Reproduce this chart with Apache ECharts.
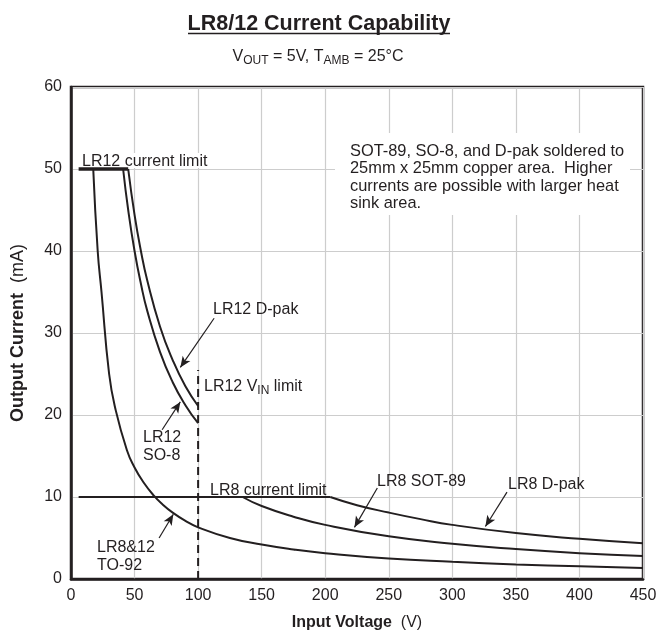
<!DOCTYPE html>
<html>
<head>
<meta charset="utf-8">
<script src="https://cdn.jsdelivr.net/npm/echarts@6/dist/echarts.min.js"></script>
<style>
  html, body { margin: 0; padding: 0; background: #fff; }
  #chart { width: 658px; height: 630px; }
</style>
</head>
<body>
<div id="chart"></div>
<script>
  // data: [input voltage V, output current mA]
  const to92 = [[17.5, 50], [21, 40], [24, 35], [30, 25], [35, 20.7], [44, 15.7], [50, 13.6], [57, 11.8], [65, 10.2], [72, 9.1], [80, 8.1], [90, 7.1], [100, 6.3], [125, 5.0], [150, 4.2], [175, 3.6], [200, 3.15], [250, 2.5], [300, 2.1], [350, 1.78], [400, 1.55], [450, 1.35]]
  const lr12So8 = [[41, 50], [45, 45], [50, 40], [55, 36], [60, 32.7], [70, 27.7], [80, 24], [90, 21.2], [100, 19.0]]
  const lr12Dpak = [[45, 50], [50, 44.4], [55, 40], [60, 36.4], [70, 30.8], [80, 26.7], [90, 23.5], [100, 21.1]]
  const lr8Sot89 = [[135, 10], [150, 8.9], [175, 7.6], [200, 6.6], [250, 5.2], [300, 4.3], [350, 3.65], [400, 3.15], [450, 2.8]]
  const lr8Dpak = [[204, 10], [225, 9.0], [250, 8.1], [275, 7.3], [300, 6.6], [350, 5.6], [400, 4.9], [450, 4.35]]
  const lr12Limit = [[6, 50], [45, 50]]
  const lr8Limit = [[6, 10], [204, 10]]
  const vinLimit = [[100, 0], [100, 25.5]]
  // arrows: [from, to]
  const arrows = [
    [[112.6, 31.8], [86, 25.8]],
    [[71.7, 18.2], [86, 21.6]],
    [[69.3, 5.0], [80.5, 7.9]],
    [[241, 11.1], [223, 6.3]],
    [[343, 10.6], [326, 6.4]]
  ]

  const ink = '#231f20'
  const font = 'Liberation Sans, Arial, sans-serif'

  const chart = echarts.init(document.getElementById('chart'))

  const curve = (data, width) => ({
    type: 'line',
    data: data,
    smooth: true,
    showSymbol: false,
    silent: true,
    lineStyle: { color: ink, width: width || 2 }
  })

  // text label, x = left edge, y = vertical centre
  const txt = (x, y, text, extra) => ({
    type: 'text',
    x: x,
    y: y,
    z: 1,
    style: Object.assign({ text: text, font: '16px ' + font, fill: ink, align: 'left', verticalAlign: 'middle' }, extra || {})
  })

  chart.setOption({
    animation: false,
    grid: {
      left: 71, right: 15, top: 87, bottom: 51,
      outerBoundsMode: 'none', containLabel: false,
      show: true, borderColor: ink, borderWidth: 2.5
    },
    xAxis: {
      type: 'value', min: 0, max: 450, interval: 50,
      name: '{b|Input Voltage}  (V)', nameLocation: 'middle', nameGap: 36,
      nameTextStyle: { fontFamily: font, fontSize: 16, color: ink, rich: { b: { fontFamily: font, fontSize: 16, fontWeight: 'bold', color: ink } } },
      axisLine: { lineStyle: { color: ink, width: 2.5 } },
      axisTick: { show: false },
      axisLabel: { fontFamily: font, fontSize: 16, color: ink, margin: 9 },
      splitLine: { lineStyle: { color: '#cdcdcd', width: 1.2 } }
    },
    yAxis: {
      type: 'value', min: 0, max: 60, interval: 10,
      name: '{b|Output Current}  (mA)', nameLocation: 'middle', nameGap: 44,
      nameTextStyle: { fontFamily: font, fontSize: 18, color: ink, rich: { b: { fontFamily: font, fontSize: 18, fontWeight: 'bold', color: ink } } },
      axisLine: { lineStyle: { color: ink, width: 2.5 } },
      axisTick: { show: false },
      axisLabel: { fontFamily: font, fontSize: 16, color: ink, margin: 9 },
      splitLine: { lineStyle: { color: '#cdcdcd', width: 1.2 } }
    },
    series: [
      curve(to92),
      curve(lr12So8),
      curve(lr12Dpak),
      curve(lr8Sot89),
      curve(lr8Dpak),
      curve(lr12Limit, 3.5),
      curve(lr8Limit, 2),
      {
        type: 'line', data: vinLimit, showSymbol: false, silent: true,
        lineStyle: { color: ink, width: 2, type: [8, 5] }
      },
      {
        type: 'line', data: [], silent: true,
        markLine: {
          silent: true, animation: false,
          symbol: ['none', 'arrow'], symbolSize: [7, 11],
          label: { show: false },
          lineStyle: { color: ink, width: 1.2, type: 'solid' },
          data: arrows.map(a => [{ coord: a[0] }, { coord: a[1] }])
        }
      }
    ],
    graphic: [
      // title and underline
      txt(319, 24, 'LR8/12 Current Capability', { font: 'bold 21.5px ' + font, align: 'center' }),
      { type: 'line', z: 1, shape: { x1: 188, y1: 33.5, x2: 450, y2: 33.5 }, style: { stroke: ink, lineWidth: 1.5 } },
      // subtitle
      {
        type: 'text', x: 318, y: 46,
        style: {
          text: '{n|V}{s|OUT}{n| = 5V, T}{s|AMB}{n| = 25°C}',
          align: 'center', verticalAlign: 'top',
          rich: {
            n: { font: '16px ' + font, fill: ink },
            s: { font: '12px ' + font, fill: ink, padding: [9, 0, 0, 0] }
          }
        }
      },
      // white boxes behind notes
      { type: 'rect', left: 79, top: 153, z: 1, shape: { width: 143, height: 15 }, style: { fill: '#fff' } },
      { type: 'rect', left: 335, top: 133, z: 1, shape: { width: 295, height: 82 }, style: { fill: '#fff' } },
      txt(82, 162, 'LR12 current limit'),
      txt(213, 310, 'LR12 D-pak'),
      {
        type: 'text', x: 204, y: 377, z: 1,
        style: {
          text: '{n|LR12 V}{s|IN}{n| limit}',
          align: 'left', verticalAlign: 'top',
          rich: {
            n: { font: '16px ' + font, fill: ink },
            s: { font: '12px ' + font, fill: ink, padding: [8, 0, 0, 0] }
          }
        }
      },
      txt(143, 447, 'LR12\nSO-8', { lineHeight: 18 }),
      txt(97, 557, 'LR8&12\nTO-92', { lineHeight: 18 }),
      txt(210, 491, 'LR8 current limit'),
      txt(377, 482, 'LR8 SOT-89'),
      txt(508, 485, 'LR8 D-pak'),
      txt(350, 177.5, 'SOT-89, SO-8, and D-pak soldered to\n25mm x 25mm copper area.  Higher\ncurrents are possible with larger heat\nsink area.', { font: '16.4px ' + font, lineHeight: 17.6 })
    ]
  })
</script>
</body>
</html>
